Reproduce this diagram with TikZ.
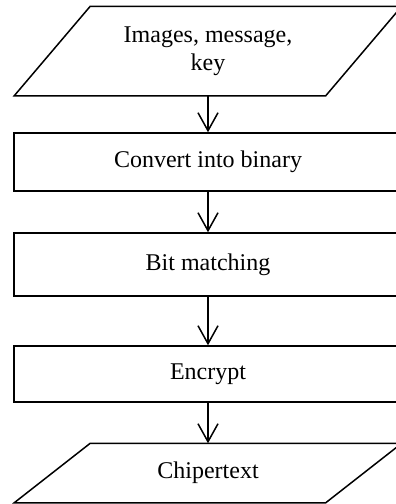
\documentclass[tikz,border=0pt]{standalone}
\usepackage{fontspec}
\setmainfont{Liberation Serif}
\usetikzlibrary{arrows.meta}

\begin{document}
\begin{tikzpicture}[x=1pt, y=-1pt,
    every node/.style={font=\fontsize{24}{28.5}\selectfont, align=center, line width=1.5pt, inner sep=0pt},
    procbox/.style={draw, rectangle, minimum width=388pt},
    iobox/.style={rectangle, minimum width=386pt},
    arr/.style={line width=1.5pt, -{Straight Barb[length=18pt, width=20pt, line width=1.5pt]}}]
    \useasboundingbox (0,0) rectangle (396,504);
    \clip (0,0) rectangle (396,504);
    \node[iobox, minimum height=88pt] (in) at (208,51) {Images, message,\\key};
    \node[procbox, minimum height=58pt] (conv) at (208,162) {Convert into binary};
    \node[procbox, minimum height=63pt] (bit) at (208,264.5) {Bit matching};
    \node[procbox, minimum height=56pt] (enc) at (208,374) {Encrypt};
    \node[iobox, minimum height=58pt] (out) at (208,473) {Chipertext};
    \foreach \p in {in,out}
        \draw[line width=1.5pt] (\p.south west) -- ([xshift=76pt]\p.north west) -- (\p.north east) -- ([xshift=-76pt]\p.south east) -- cycle;
    \draw[arr] (in) -- (conv);
    \draw[arr] (conv) -- (bit);
    \draw[arr] (bit) -- (enc);
    \draw[arr] (enc) -- (out);
\end{tikzpicture}
\end{document}
